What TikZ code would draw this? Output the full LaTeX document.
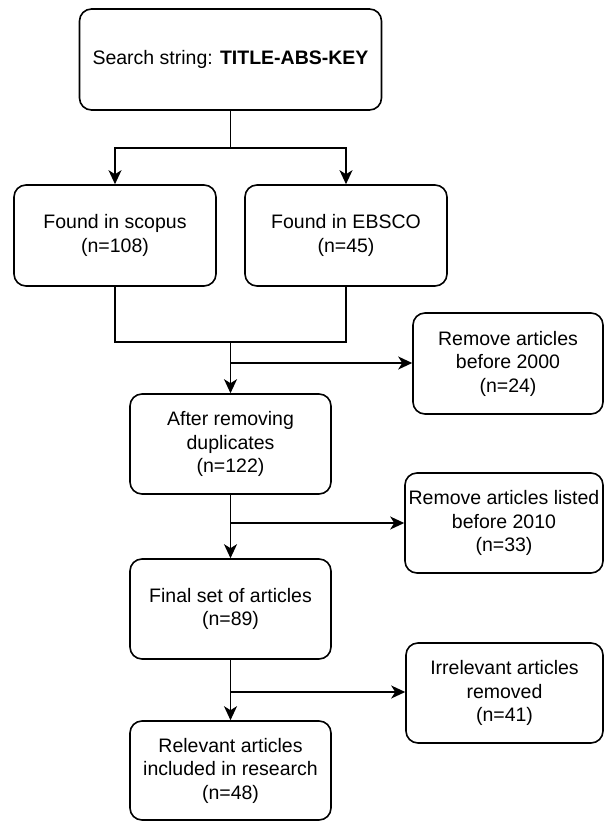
\documentclass[tikz,border=0pt]{standalone}
\usepackage{fontspec}
\setmainfont{Liberation Sans}
\usetikzlibrary{arrows.meta}
\begin{document}
\begin{tikzpicture}[x=1pt,y=-1pt,
  box/.style={draw, line width=1.6pt, rounded corners=12pt, align=center,
    inner sep=0pt, font=\fontsize{19.5}{23.5}\selectfont},
  conn/.style={line width=1.6pt},
  arr/.style={conn, -{Stealth[length=14pt,width=13pt,inset=4pt]}}]
\useasboundingbox (0,0) rectangle (605,821);
\clip (0,0) rectangle (605,821);
\node[box, minimum width=302pt, minimum height=101pt] (top) at (230.5,59.5)
  {Search string: \textbf{TITLE-ABS-KEY}};
\node[box, minimum width=202pt, minimum height=101pt] (scopus) at (115,235.5)
  {Found in scopus\\(n=108)};
\node[box, minimum width=202pt, minimum height=101pt] (ebsco) at (346,235.5)
  {Found in EBSCO\\(n=45)};
\node[box, minimum width=190pt, minimum height=101pt] (rem1) at (508,363.5)
  {Remove articles\\before 2000\\(n=24)};
\node[box, minimum width=201pt, minimum height=100pt] (dup) at (230.5,444)
  {After removing\\duplicates\\(n=122)};
\node[box, minimum width=198pt, minimum height=100pt] (rem2) at (504,523)
  {Remove articles listed\\before 2010\\(n=33)};
\node[box, minimum width=201pt, minimum height=100pt] (final) at (230.5,609)
  {Final set of articles\\(n=89)};
\node[box, minimum width=197pt, minimum height=100pt] (irr) at (504.5,693)
  {Irrelevant articles\\removed\\(n=41)};
\node[box, minimum width=201pt, minimum height=99pt] (rel) at (230.5,770.5)
  {Relevant articles\\included in research\\(n=48)};
\coordinate (sp) at (230.5,148);
\coordinate (mg) at (230.5,342);
\coordinate (b1) at (230.5,363);
\coordinate (b2) at (230.5,523);
\coordinate (b3) at (230.5,692);
\draw[conn] (top.south) -- (sp);
\draw[arr] (sp) -| (scopus.north);
\draw[arr] (sp) -| (ebsco.north);
\draw[conn] (scopus.south) |- (mg) -| (ebsco.south);
\draw[arr] (mg) -- (dup.north);
\draw[arr] (b1) -- (b1 -| rem1.west);
\draw[arr] (dup.south) -- (final.north);
\draw[arr] (b2) -- (b2 -| rem2.west);
\draw[arr] (final.south) -- (rel.north);
\draw[arr] (b3) -- (b3 -| irr.west);
\end{tikzpicture}
\end{document}
